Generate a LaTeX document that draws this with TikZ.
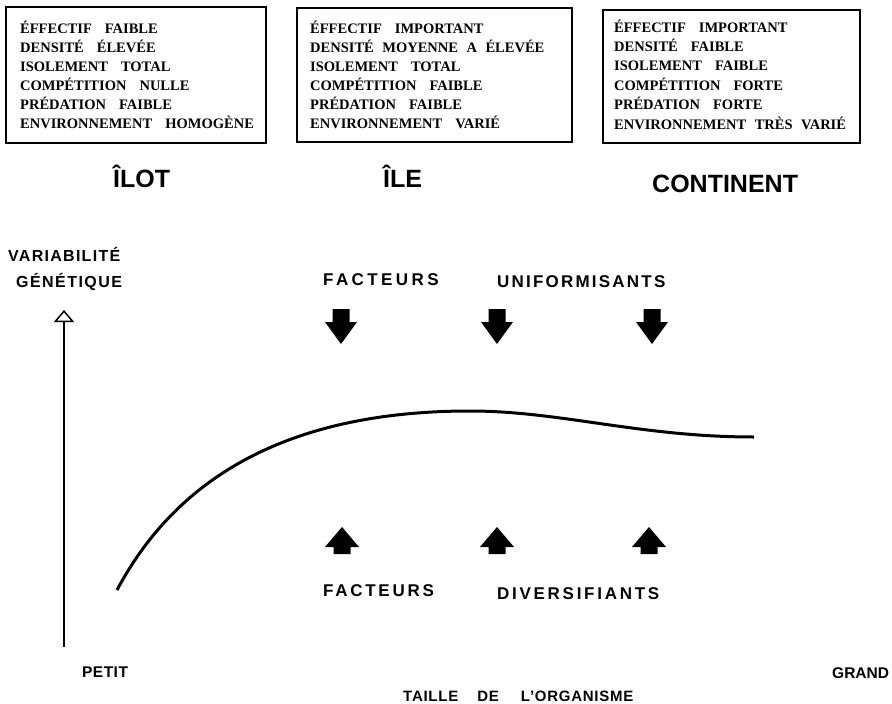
\documentclass[tikz,border=0pt]{standalone}
\usepackage{fontspec}
\setmainfont{Liberation Serif}
\newfontfamily\hs{Liberation Sans}
\usetikzlibrary{arrows.meta}
\newcommand\sfw[2]{\hs\bfseries\fontsize{#1}{#1}\selectfont\addfontfeature{LetterSpace=#2}}
\newcommand\boxfont{\bfseries\fontsize{14.5}{19}\selectfont}
\newcommand\Wg{\hspace{13pt}}
\newcommand\Ng{\hspace{8.5pt}}
\begin{document}
\begin{tikzpicture}[x=1pt,y=-1pt,
  infobox/.style={draw, line width=2pt, inner sep=0},
  boxtext/.style={anchor=base west, align=left, inner sep=0, font=\boxfont},
  lab/.style={anchor=base west, inner sep=0},
  downarr/.pic={\fill (-8.5,0) -- (8.5,0) -- (8.5,13) -- (16,13) -- (0,35) -- (-16,13) -- (-8.5,13) -- cycle;},
  uparr/.pic={\fill (0,0) -- (17,20) -- (8.5,20) -- (8.5,27) -- (-8.5,27) -- (-8.5,20) -- (-17,20) -- cycle;}]
\useasboundingbox[fill=white] (0,0) rectangle (892,704);

% boxes
\node[infobox, minimum width=260pt, minimum height=136pt] (b1) at (136,75) {};
\node[infobox, minimum width=275pt, minimum height=134pt] (b2) at (434.5,75) {};
\node[infobox, minimum width=257pt, minimum height=133pt] (b3) at (731.5,76.5) {};

% box texts (anchored at the baseline of their last line)
\node[boxtext] (t1) at (20,128.5) {ÉFFECTIF\Wg FAIBLE\\DENSITÉ\Wg ÉLEVÉE\\ISOLEMENT\Wg TOTAL\\COMPÉTITION\Wg NULLE\\PRÉDATION\Wg FAIBLE\\ENVIRONNEMENT\Wg HOMOGÈNE};
\node[boxtext] (t2) at (310,128.5) {ÉFFECTIF\Wg IMPORTANT\\DENSITÉ\Ng MOYENNE\Ng A\Ng ÉLEVÉE\\ISOLEMENT\Wg TOTAL\\COMPÉTITION\Wg FAIBLE\\PRÉDATION\Wg FAIBLE\\ENVIRONNEMENT\Wg VARIÉ};
\node[boxtext, font=\bfseries\fontsize{14.5}{19.4}\selectfont] (t3) at (614,129) {ÉFFECTIF\Wg IMPORTANT\\DENSITÉ\Wg FAIBLE\\ISOLEMENT\Wg FAIBLE\\COMPÉTITION\Wg FORTE\\PRÉDATION\Wg FORTE\\ENVIRONNEMENT\Ng TRÈS\Ng VARIÉ};

% titles
\node[lab, font=\sfw{25}{0}] (ilot) at (113,187) {ÎLOT};
\node[lab, font=\sfw{25}{0}] (ile) at (383,187) {ÎLE};
\node[lab, font=\sfw{25}{0}] (cont) at (652,192) {CONTINENT};

% axis labels
\node[lab, font=\sfw{16}{8}] (var1) at (8,261) {VARIABILITÉ};
\node[lab, font=\sfw{16}{9}] (var2) at (16,287) {GÉNÉTIQUE};
\node[lab, font=\sfw{15.5}{3}] (petit) at (82,677) {PETIT};
\node[lab, font=\sfw{15.5}{0}] (grand) at (832,678) {GRAND};
\node[lab, font=\sfw{15}{5}] (taille) at (403,701) {TAILLE\hspace{19pt}DE\hspace{22pt}L’ORGANISME};

% factors
\node[lab, font=\sfw{17}{20}] (fu1) at (323,285) {FACTEURS};
\node[lab, font=\sfw{17}{13}] (fu2) at (497,287) {UNIFORMISANTS};
\node[lab, font=\sfw{17}{16}] (fd1) at (323,596) {FACTEURS};
\node[lab, font=\sfw{17}{16}] (fd2) at (497,599) {DIVERSIFIANTS};

% vertical axis
\coordinate (ybot) at (64,647);
\coordinate (ytop) at (64,310);
\draw[line width=1.5pt, -{Triangle[open, width=20pt, length=12pt]}] (ybot) -- (ytop);

% block arrows
\pic at (341,309) {downarr};
\pic at (497,309) {downarr};
\pic at (652,309) {downarr};
\pic at (342,527) {uparr};
\pic at (497,527) {uparr};
\pic at (649,527) {uparr};

% curve
\coordinate (c0) at (117,590);
\coordinate (c1) at (470,411);
\coordinate (c2) at (754,437);
\draw[line width=3pt] (c0) .. controls (165,500) and (260,411) .. (c1)
  .. controls (560,411) and (640,437) .. (c2);
\end{tikzpicture}
\end{document}
